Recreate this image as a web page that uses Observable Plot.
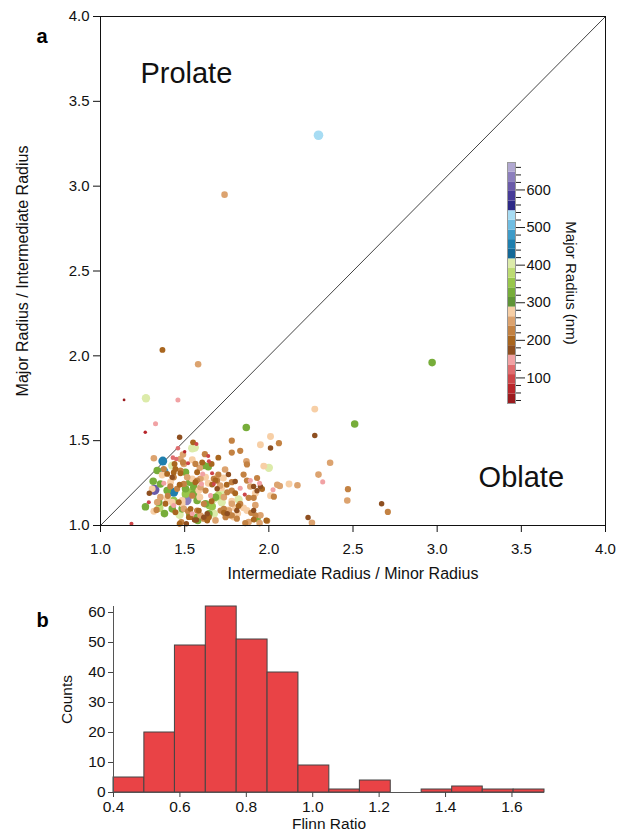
<!DOCTYPE html>
<html><head><meta charset="utf-8">
<script src="https://cdn.jsdelivr.net/npm/d3@7"></script>
<script src="https://cdn.jsdelivr.net/npm/@observablehq/plot@0.6"></script>
<style>
body{margin:0;background:#fff;}
#wrap{position:relative;width:628px;height:834px;font-family:"Liberation Sans",Arial,Helvetica,sans-serif;}
#wrap svg{position:absolute;overflow:visible;}
</style></head><body><div id="wrap"></div>
<script>
// ---- Panel a: shape ratios ----
const ratioX = [
2.295,1.737,1.368,1.58,2.97,1.14,1.27,1.46,1.327,1.266,
1.866,1.47,1.55,1.57,1.545,1.56,1.50,1.46,1.37,1.317,
1.376,1.32,1.435,1.267,1.35,1.38,1.184,1.47,1.674,1.578,
1.47,1.51,1.78,1.83,2.01,2.06,1.95,2.01,1.867,1.87,
1.97,2.0,2.12,2.17,2.065,2.05,2.01,2.03,2.273,2.51,
2.273,2.364,2.295,2.32,2.47,2.466,2.233,2.256,1.99,2.025,
2.67,2.707,1.43,1.426,1.495,1.366,1.435,1.435,1.475,1.545,
1.313,1.356,1.376,1.396,1.455,1.505,1.525,1.554,1.51,1.396,
1.287,1.337,1.435,1.435,1.485,1.485,1.535,1.525,1.545,1.574,
1.48,1.57,1.78,1.604,1.644,1.66,1.64,1.614,1.607,1.663,
1.574,1.624,1.673,1.60,1.64,1.673,1.693,1.584,1.624,1.693,
1.683,1.574,1.66,1.614,1.663,1.584,1.713,1.644,1.614,1.634,
1.753,1.78,1.80,1.733,1.78,1.78,1.82,1.857,1.88,1.91,
1.89,1.945,1.93,1.91,1.95,1.85,1.87,1.83,1.91,1.92,
1.93,1.88,1.80,1.76,1.81,1.733,1.743,1.78,1.81,1.693,
1.683,1.594,1.574,1.87,1.89,1.93,1.96,1.92,1.82,1.895,
1.91,1.95,1.985,1.86,1.945,1.79,1.815,1.763,1.72,1.70,
1.674,1.624,1.648,1.59,1.53,1.574,1.634,1.644,1.614,1.683,
1.733,1.753,1.77,1.713,1.72,1.78,1.80,1.83,1.654,1.71,
1.70,1.663,1.475,1.49,1.52,1.545,1.59,1.564,1.445,1.475,
1.515,1.53,1.564,1.495,1.416,1.415,1.47,1.554,1.594,1.505,
1.545,1.485,1.465,1.426,1.40,1.386,1.356,1.346,1.333,1.317,
1.426,1.445,1.495,1.52,1.535,1.559,1.594,1.307,1.376,1.337,
1.396,1.426,1.45,1.44,1.49,1.505,1.62,1.70,1.74,1.76,
1.73,1.85,1.29,1.64,1.92,1.75];
const ratioY = [
3.30,2.95,2.035,1.95,1.96,1.74,1.75,1.74,1.60,1.55,
1.577,1.52,1.49,1.48,1.455,1.46,1.435,1.455,1.38,1.396,
1.32,1.21,1.196,1.11,1.104,1.07,1.01,1.063,1.07,1.03,
1.01,1.01,1.50,1.44,1.525,1.485,1.476,1.457,1.378,1.36,
1.35,1.34,1.245,1.237,1.233,1.24,1.176,1.17,1.686,1.598,
1.53,1.37,1.30,1.257,1.214,1.147,1.047,1.016,1.028,1.21,
1.128,1.08,1.40,1.353,1.363,1.298,1.313,1.284,1.308,1.275,
1.261,1.245,1.249,1.206,1.216,1.216,1.196,1.186,1.15,1.157,
1.137,1.137,1.147,1.118,1.128,1.098,1.098,1.049,1.069,1.088,
1.02,1.033,1.43,1.372,1.378,1.363,1.347,1.353,1.304,1.308,
1.314,1.284,1.275,1.245,1.249,1.245,1.265,1.206,1.206,1.216,
1.167,1.147,1.143,1.128,1.112,1.088,1.088,1.069,1.049,1.029,
1.196,1.255,1.259,1.167,1.128,1.143,1.153,1.182,1.163,1.163,
1.265,1.249,1.28,1.23,1.23,1.104,1.088,1.128,1.088,1.06,
1.043,1.02,1.104,1.092,1.088,1.098,1.049,1.06,1.04,1.284,
1.265,1.275,1.265,1.265,1.23,1.205,1.215,1.19,1.115,1.075,
1.035,1.06,1.03,1.014,1.014,1.05,1.07,1.088,1.137,1.176,
1.157,1.128,1.118,1.167,1.069,1.049,1.069,1.049,1.04,1.03,
1.075,1.07,1.06,1.196,1.222,1.206,1.19,1.22,1.176,1.235,
1.30,1.241,1.392,1.372,1.367,1.388,1.34,1.363,1.333,1.324,
1.284,1.255,1.255,1.245,1.255,1.23,1.24,1.225,1.225,1.186,
1.176,1.147,1.137,1.137,1.175,1.128,1.167,1.137,1.092,1.084,
1.098,1.078,1.098,1.084,1.049,1.033,1.059,1.216,1.333,1.324,
1.304,1.284,1.392,1.363,1.418,1.314,1.42,1.40,1.33,1.30,
1.28,1.30,1.19,1.41,1.12,1.24];
const majorRadius = [
532,250,199,250,327,45,404,147,147,71,
327,173,199,96,404,404,71,122,455,250,
481,600,455,327,378,327,96,404,404,327,
199,173,224,224,276,224,276,173,250,224,
276,404,276,250,250,250,276,224,276,327,
173,250,250,147,224,250,173,250,224,147,
173,224,122,404,250,276,199,224,199,276,
327,327,147,327,224,327,352,327,635,276,
96,250,352,147,276,327,199,199,147,224,
224,173,224,199,96,199,327,327,147,96,
199,276,224,147,276,96,224,276,224,173,
327,327,199,224,352,199,224,327,173,199,
224,224,173,250,250,276,404,96,224,224,
147,147,224,173,173,276,276,224,173,224,
327,250,276,276,173,224,224,224,224,276,
199,250,224,224,250,173,199,276,199,224,
199,250,199,224,250,276,276,250,404,378,
404,327,352,276,327,327,173,199,224,250,
199,173,224,404,276,224,199,147,147,250,
224,199,250,224,96,276,250,224,199,224,
250,327,199,224,276,224,199,327,250,352,
224,276,199,276,224,199,250,327,224,276,
327,199,250,224,199,173,250,276,224,327,
199,173,122,199,250,327,224,199,250,173,
276,224,173,96,250,199];

const axisTicks = [1.0,1.5,2.0,2.5,3.0,3.5,4.0];
const diagonal = [1, 4];
const regionLabels = ["Prolate", "Oblate"];
const regionX = [1.51, 3.50];
const regionY = [3.66, 1.28];

// ---- colour bar (Major Radius, nm) ----
const radiusMin = 32, radiusMax = 673;
const colorThresholds = [57.6,83.3,108.9,134.6,160.2,185.8,211.5,237.1,262.8,288.4,314.0,339.7,365.3,391.0,416.6,442.2,467.9,493.5,519.2,544.8,570.4,596.1,621.7,647.4];
const colorRange = [
"#9b1b1f","#b8262b","#cd4649","#df6d6f","#f1a2a4",
"#8e4f20","#a9661f","#c38243","#dca36f","#f7cfa6",
"#5f9437","#77ad3a","#98c64b","#bcdb72","#dcebaa",
"#136896","#1f7fae","#3e9bc8","#6fbde2","#a7dcf3",
"#2d2a87","#473c98","#6a5ba9","#8c7fbd","#b1a8d1"];
const cbMajorTicks = [100,200,300,400,500,600];
const cbMinorTicks = [40,60,80,120,140,160,180,220,240,260,280,320,340,360,380,420,440,460,480,520,540,560,580,620,640,660];

// ---- Panel b: Flinn ratio histogram ----
const flinnBinStart = [0.400,0.493,0.585,0.678,0.771,0.864,0.957,1.050,1.142,1.235,1.328,1.420,1.512,1.605];
const flinnBinEnd   = [0.493,0.585,0.678,0.771,0.864,0.957,1.050,1.142,1.235,1.328,1.420,1.512,1.605,1.698];
const flinnCounts   = [5,20,49,62,51,40,9,1,4,0,1,2,1,1];
const histXTicks = [0.4,0.6,0.8,1.0,1.2,1.4,1.6];
const histYTicks = [0,10,20,30,40,50,60];

const FONT = "Liberation Sans, Arial, Helvetica, sans-serif";
const wrap = document.getElementById("wrap");
const f1 = d3.format(".1f");

const idx = d3.range(ratioX.length);

const scatter = Plot.plot({
  width: 628, height: 595,
  marginLeft: 100, marginRight: 23, marginTop: 16, marginBottom: 70,
  style: {fontFamily: FONT, fontSize: "15px", background: "transparent", color: "#111"},
  x: {domain: [1, 4]},
  y: {domain: [1, 4]},
  r: {type: "sqrt", domain: [0, radiusMax], range: [0, 5.4]},
  color: {type: "threshold", domain: colorThresholds, range: colorRange},
  marks: [
    Plot.line(diagonal, {x: d => d, y: d => d, stroke: "#444", strokeWidth: 1}),
    Plot.dot(idx, {x: i => ratioX[i], y: i => ratioY[i], r: i => majorRadius[i], fill: i => majorRadius[i], stroke: null}),
    Plot.frame({stroke: "#111", strokeWidth: 1}),
    Plot.axisX(axisTicks, {tickSize: 7, tickPadding: 11, tickFormat: f1, fontSize: 15, label: null, stroke: "#111"}),
    Plot.axisY(axisTicks, {tickSize: 7, tickPadding: 4, tickFormat: f1, fontSize: 15, label: null, stroke: "#111"}),
    Plot.text(regionLabels, {x: (d, i) => regionX[i], y: (d, i) => regionY[i], text: d => d, fontSize: 29, fill: "#111"}),
    Plot.text(["Major Radius / Intermediate Radius"], {frameAnchor: "left", textAnchor: "middle", dx: -78, rotate: -90, fontSize: 16, fill: "#111"}),
    Plot.text(["Intermediate Radius / Minor Radius"], {frameAnchor: "bottom", textAnchor: "middle", dy: 53, fontSize: 16, fill: "#111"}),
    Plot.text(["a"], {frameAnchor: "top-left", dx: -64, dy: 12, fontSize: 20, fontWeight: "bold", fill: "#000"})
  ]
});
scatter.style.left = "0px"; scatter.style.top = "0px";
wrap.appendChild(scatter);

const cbLower = [radiusMin, ...colorThresholds];
const cbUpper = [...colorThresholds, radiusMax];
const colorbar = Plot.plot({
  width: 120, height: 260,
  marginLeft: 23, marginRight: 89, marginTop: 12, marginBottom: 7,
  style: {fontFamily: FONT, fontSize: "14.5px", background: "transparent", color: "#111"},
  x: {domain: [0, 1], axis: null},
  y: {domain: [radiusMin, radiusMax], axis: null},
  color: {type: "threshold", domain: colorThresholds, range: colorRange},
  marks: [
    Plot.rect(cbLower, {y1: (d, i) => cbLower[i], y2: (d, i) => cbUpper[i], fill: (d, i) => (cbLower[i] + cbUpper[i]) / 2}),
    Plot.frame({stroke: "#999", strokeWidth: 1}),
    Plot.axisY(cbMinorTicks, {anchor: "right", tickSize: 5, tickFormat: () => "", label: null, stroke: "#222"}),
    Plot.axisY(cbMajorTicks, {anchor: "right", tickSize: 9, tickPadding: 2, fontSize: 14.5, label: null, stroke: "#222"}),
    Plot.text(["Major Radius (nm)"], {frameAnchor: "right", textAnchor: "middle", dx: 55, rotate: 90, fontSize: 15, fill: "#111"})
  ]
});
colorbar.style.left = "484px"; colorbar.style.top = "150px";
wrap.appendChild(colorbar);

const hist = Plot.plot({
  width: 628, height: 239,
  marginLeft: 113, marginRight: 84, marginTop: 11, marginBottom: 42,
  style: {fontFamily: FONT, fontSize: "15.5px", background: "transparent", color: "#111"},
  x: {domain: [0.4, 1.698]},
  y: {domain: [0, 62]},
  marks: [
    Plot.rectY(flinnCounts, {x1: (d, i) => flinnBinStart[i], x2: (d, i) => flinnBinEnd[i], y: d => d, fill: "#e94346", stroke: "#444", strokeWidth: 1, inset: 0}),
    Plot.ruleX([0.4], {y1: 0, y2: 62, stroke: "#555"}),
    Plot.ruleY([0], {stroke: "#555"}),
    Plot.axisX(histXTicks, {tickSize: 5, tickPadding: 3, tickFormat: f1, fontSize: 15.5, label: null, stroke: "#444"}),
    Plot.axisY(histYTicks, {tickSize: 5, tickPadding: 3, fontSize: 15.5, label: null, stroke: "#444"}),
    Plot.text(["Counts"], {frameAnchor: "left", textAnchor: "middle", dx: -46, rotate: -90, fontSize: 15.5, fill: "#111"}),
    Plot.text(["Flinn Ratio"], {frameAnchor: "bottom", textAnchor: "middle", dy: 36, fontSize: 15.5, fill: "#111"}),
    Plot.text(["b"], {frameAnchor: "top-left", dx: -77, dy: 6, fontSize: 20, fontWeight: "bold", fill: "#000"})
  ]
});
hist.style.left = "0px"; hist.style.top = "595px";
wrap.appendChild(hist);
</script>
</body></html>
